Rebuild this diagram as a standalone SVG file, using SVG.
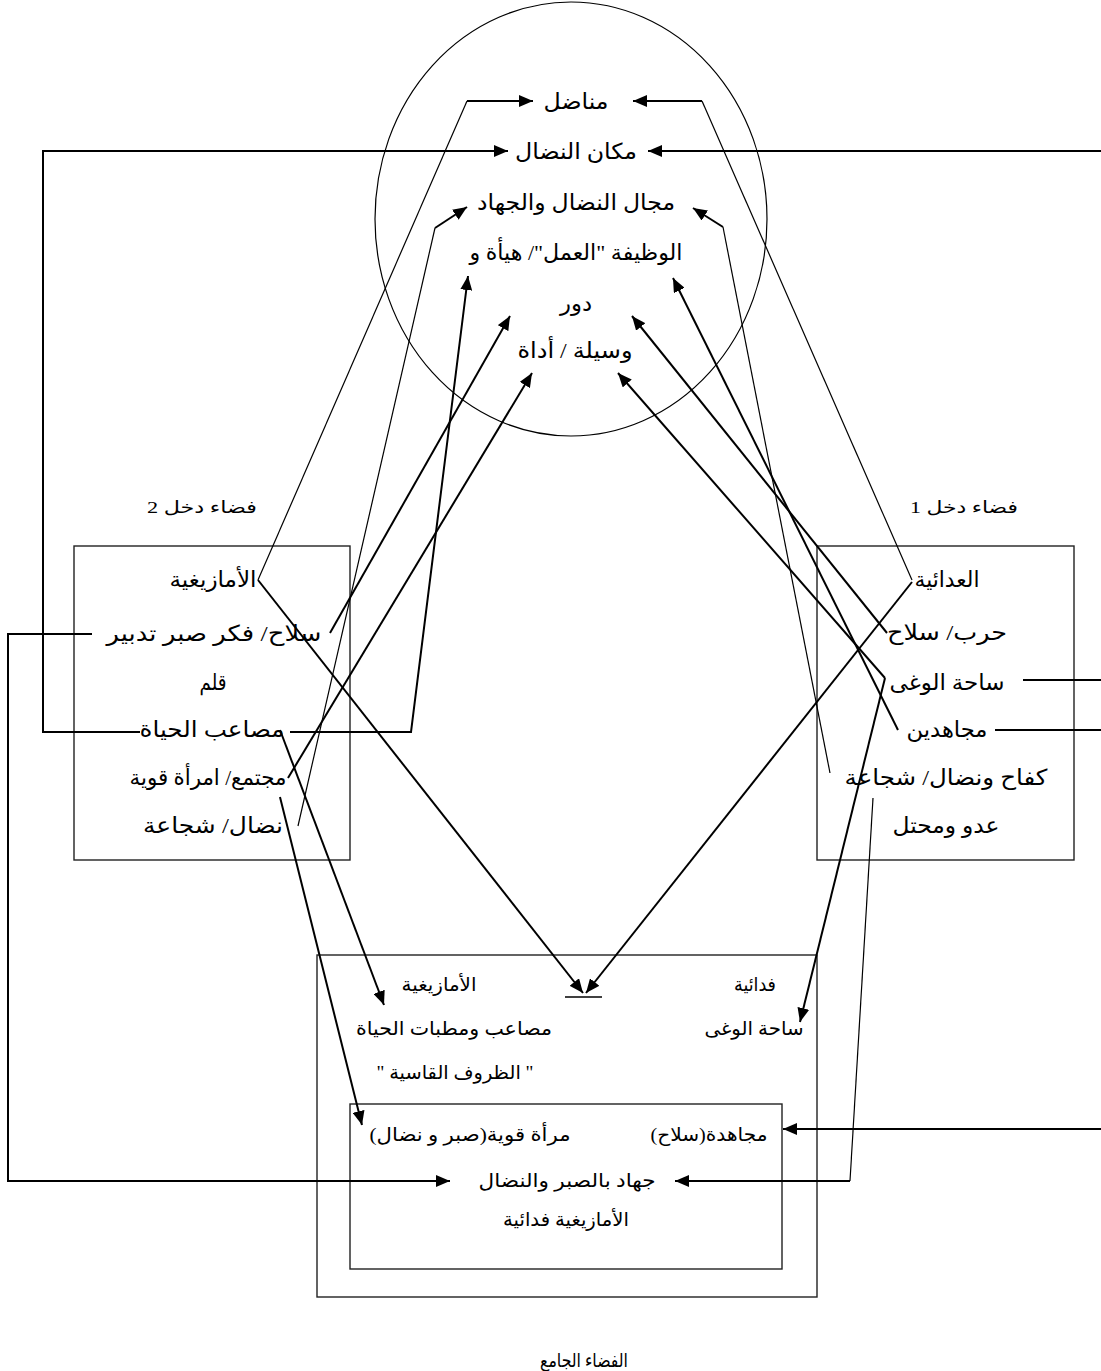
<svg xmlns="http://www.w3.org/2000/svg" width="1101" height="1371" viewBox="0 0 1101 1371">
  <defs>
    <marker id="arrow" markerUnits="userSpaceOnUse" markerWidth="15" markerHeight="12" refX="14" refY="6" orient="auto">
      <path d="M0,0 L14,6 L0,12 Z" fill="#000"/>
    </marker>
    <style>
      text { font-family: "Liberation Serif", "DejaVu Sans", sans-serif; fill: #000; direction: rtl; text-anchor: middle; }
      .t { font-size: 22px; }
      .s { font-size: 19px; }
      .h { font-size: 17px; }
      .box { fill: none; stroke: #222; stroke-width: 1.4; }
      .c { fill: none; stroke: #000; stroke-width: 2; stroke-linejoin: miter; }
      .thin { fill: none; stroke: #000; stroke-width: 1.2; }
      .arr { marker-end: url(#arrow); }
    </style>
  </defs>

  <rect width="1101" height="1371" fill="#fff"/>

  <!-- blended space: the circle -->
  <g id="blend">
    <ellipse cx="571" cy="219" rx="196" ry="217" fill="none" stroke="#000" stroke-width="1.2"/>
    <text class="t" x="576" y="109" textLength="65" lengthAdjust="spacingAndGlyphs">مناضل</text>
    <text class="t" x="576" y="159" textLength="122" lengthAdjust="spacingAndGlyphs">مكان النضال</text>
    <text class="t" x="576" y="210" textLength="198" lengthAdjust="spacingAndGlyphs">مجال النضال والجهاد</text>
    <text class="t" x="576" y="260" textLength="213" lengthAdjust="spacingAndGlyphs">الوظيفة "العمل"/ هيأة و</text>
    <text class="t" x="576" y="311" textLength="32" lengthAdjust="spacingAndGlyphs">دور</text>
    <text class="t" x="575" y="358" textLength="115" lengthAdjust="spacingAndGlyphs">وسيلة / أداة</text>
  </g>

  <!-- input space 2 -->
  <g id="input2">
    <text class="h" x="202" y="513" textLength="110" lengthAdjust="spacingAndGlyphs">فضاء دخل 2</text>
    <rect class="box" x="74" y="546" width="276" height="314"/>
    <text class="t" x="213" y="587" textLength="87" lengthAdjust="spacingAndGlyphs">الأمازيغية</text>
    <text class="t" x="214" y="641" textLength="215" lengthAdjust="spacingAndGlyphs">سلاح/ فكر صبر تدبير</text>
    <text class="t" x="213" y="690" textLength="27" lengthAdjust="spacingAndGlyphs">قلم</text>
    <text class="t" x="212" y="737" textLength="145" lengthAdjust="spacingAndGlyphs">مصاعب الحياة</text>
    <text class="t" x="208" y="785" textLength="157" lengthAdjust="spacingAndGlyphs">مجتمع/ امرأة قوية</text>
    <text class="t" x="213" y="833" textLength="140" lengthAdjust="spacingAndGlyphs">نضال/ شجاعة</text>
  </g>

  <!-- input space 1 -->
  <g id="input1">
    <text class="h" x="964" y="513" textLength="108" lengthAdjust="spacingAndGlyphs">فضاء دخل 1</text>
    <rect class="box" x="817" y="546" width="257" height="314"/>
    <text class="t" x="947" y="587" textLength="65" lengthAdjust="spacingAndGlyphs">العدائية</text>
    <text class="t" x="947" y="640" textLength="120" lengthAdjust="spacingAndGlyphs">حرب/ سلاح</text>
    <text class="t" x="947" y="690" textLength="115" lengthAdjust="spacingAndGlyphs">ساحة الوغى</text>
    <text class="t" x="947" y="737" textLength="81" lengthAdjust="spacingAndGlyphs">مجاهدين</text>
    <text class="t" x="946" y="785" textLength="203" lengthAdjust="spacingAndGlyphs">كفاح ونضال/ شجاعة</text>
    <text class="t" x="946" y="833" textLength="107" lengthAdjust="spacingAndGlyphs">عدو ومحتل</text>
  </g>

  <!-- generic space -->
  <g id="generic">
    <rect class="box" x="317" y="955" width="500" height="342"/>
    <text class="s" x="439" y="991" textLength="75" lengthAdjust="spacingAndGlyphs">الأمازيغية</text>
    <text class="s" x="755" y="991" textLength="42" lengthAdjust="spacingAndGlyphs">فدائية</text>
    <line x1="565" y1="997" x2="602" y2="997" stroke="#000" stroke-width="1.5"/>
    <text class="s" x="454" y="1035" textLength="196" lengthAdjust="spacingAndGlyphs">مصاعب ومطبات الحياة</text>
    <text class="s" x="754" y="1035" textLength="99" lengthAdjust="spacingAndGlyphs">ساحة الوغى</text>
    <text class="s" x="455" y="1079" textLength="157" lengthAdjust="spacingAndGlyphs">" الظروف القاسية "</text>
    <text class="s" x="584" y="1367" textLength="88" lengthAdjust="spacingAndGlyphs">الفضاء الجامع</text>
  </g>

  <!-- emergent structure -->
  <g id="emergent">
    <rect class="box" x="350" y="1104" width="432" height="165"/>
    <text class="s" x="709" y="1141" textLength="117" lengthAdjust="spacingAndGlyphs">مجاهدة(سلاح)</text>
    <text class="s" x="470" y="1141" textLength="201" lengthAdjust="spacingAndGlyphs">مرأة قوية(صبر و نضال)</text>
    <text class="s" x="567" y="1187" textLength="177" lengthAdjust="spacingAndGlyphs">جهاد بالصبر والنضال</text>
    <text class="s" x="566" y="1226" textLength="126" lengthAdjust="spacingAndGlyphs">الأمازيغية فدائية</text>
  </g>

  <!-- projections -->
  <g id="connectors">
    <path class="thin" d="M258,580 L467,101"/>
    <path class="c arr" d="M467,101 L533,101"/>
    <path class="thin" d="M912,580 L702,101"/>
    <path class="c arr" d="M702,101 L633,101"/>

    <path class="c arr" d="M140,732 L43,732 L43,151 L508,151"/>
    <path class="c arr" d="M1105,151 L648,151"/>

    <path class="thin" d="M298,826 L435,228"/>
    <path class="c arr" d="M435,228 L467,207"/>
    <path class="thin" d="M830,773 L723,227"/>
    <path class="c arr" d="M723,227 L693,208"/>

    <path class="c arr" d="M290,732 L411,732 L468,276"/>
    <path class="c arr" d="M898,730 L673,278"/>

    <path class="c arr" d="M330,633 L510,316"/>
    <path class="c arr" d="M887,633 L632,316"/>

    <path class="c arr" d="M288,778 L532,373"/>
    <path class="c arr" d="M885,678 L618,373"/>

    <path class="c arr" d="M258,580 L583,993"/>
    <path class="c arr" d="M912,582 L586,993"/>

    <path class="c arr" d="M280,730 L384,1005"/>
    <path class="c arr" d="M280,797 L362,1125"/>
    <path class="c arr" d="M885,678 L800,1022"/>

    <path class="thin" d="M873,798 L850,1181"/>
    <path class="c arr" d="M850,1181 L675,1181"/>
    <path class="c arr" d="M92,634 L8,634 L8,1181 L450,1181"/>

    <path class="c" d="M1023,680 L1105,680"/>
    <path class="c" d="M995,730 L1105,730"/>
    <path class="c arr" d="M1105,1129 L783,1129"/>
  </g>
</svg>
